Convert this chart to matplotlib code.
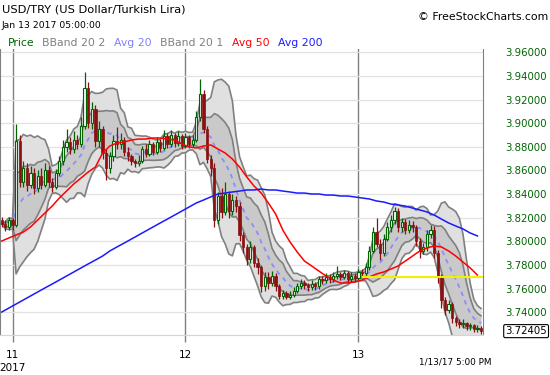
import numpy as np
import pandas as pd
import matplotlib
matplotlib.use('Agg')
import matplotlib.pyplot as plt

plt.rcParams['font.family'] = ['DejaVu Sans']

# 30 minute candles, Jan 10 22:30 -> Jan 13 17:00
open_first = 3.818
close = [3.815, 3.812, 3.818, 3.814, 3.885, 3.850, 3.862, 3.848, 3.858, 3.845,
         3.855, 3.848, 3.860, 3.850, 3.846, 3.858, 3.868, 3.880, 3.884, 3.878,
         3.886, 3.882, 3.898, 3.930, 3.900, 3.912, 3.885, 3.895, 3.875, 3.862,
         3.872, 3.885, 3.882, 3.886, 3.876, 3.872, 3.868, 3.866, 3.868, 3.878,
         3.874, 3.882, 3.876, 3.884, 3.879, 3.889, 3.882, 3.890, 3.883, 3.889,
         3.881, 3.888, 3.882, 3.886, 3.905, 3.925, 3.895, 3.870, 3.862, 3.818,
         3.838, 3.825, 3.840, 3.826, 3.835, 3.830, 3.805, 3.795, 3.785, 3.795,
         3.782, 3.778, 3.762, 3.770, 3.765, 3.771, 3.762, 3.754, 3.756, 3.753,
         3.755, 3.758, 3.762, 3.765, 3.763, 3.761, 3.764, 3.762, 3.768, 3.767,
         3.770, 3.768, 3.771, 3.772, 3.770, 3.773, 3.768, 3.771, 3.769, 3.774,
         3.773, 3.778, 3.792, 3.808, 3.798, 3.790, 3.802, 3.812, 3.818, 3.826,
         3.812, 3.816, 3.810, 3.814, 3.812, 3.800, 3.792, 3.795, 3.806, 3.810,
         3.790, 3.770, 3.750, 3.742, 3.747, 3.735, 3.732, 3.730, 3.731, 3.728,
         3.729, 3.726, 3.727, 3.72405]
high = [3.821, 3.818, 3.821, 3.820, 3.899, 3.890, 3.868, 3.866, 3.864, 3.862,
        3.860, 3.862, 3.866, 3.864, 3.854, 3.861, 3.872, 3.886, 3.895, 3.888,
        3.893, 3.890, 3.905, 3.943, 3.935, 3.918, 3.915, 3.902, 3.898, 3.878,
        3.876, 3.890, 3.897, 3.892, 3.888, 3.880, 3.874, 3.870, 3.873, 3.881,
        3.882, 3.886, 3.884, 3.888, 3.887, 3.894, 3.892, 3.894, 3.892, 3.893,
        3.891, 3.892, 3.890, 3.890, 3.910, 3.937, 3.928, 3.898, 3.873, 3.866,
        3.842, 3.845, 3.850, 3.843, 3.840, 3.838, 3.833, 3.808, 3.798, 3.800,
        3.797, 3.786, 3.780, 3.774, 3.774, 3.775, 3.773, 3.764, 3.759, 3.758,
        3.758, 3.761, 3.765, 3.768, 3.767, 3.765, 3.767, 3.766, 3.771, 3.771,
        3.773, 3.772, 3.774, 3.779, 3.774, 3.776, 3.775, 3.774, 3.773, 3.777,
        3.777, 3.782, 3.796, 3.812, 3.820, 3.802, 3.806, 3.816, 3.822, 3.829,
        3.828, 3.820, 3.819, 3.818, 3.817, 3.814, 3.803, 3.799, 3.810, 3.814,
        3.813, 3.793, 3.772, 3.753, 3.750, 3.749, 3.737, 3.734, 3.734, 3.732,
        3.731, 3.730, 3.729, 3.728]
low = [3.812, 3.809, 3.810, 3.810, 3.812, 3.846, 3.846, 3.843, 3.845, 3.840,
       3.842, 3.844, 3.846, 3.846, 3.842, 3.844, 3.855, 3.865, 3.876, 3.874,
       3.875, 3.878, 3.880, 3.895, 3.896, 3.895, 3.880, 3.880, 3.870, 3.852,
       3.858, 3.868, 3.878, 3.878, 3.872, 3.868, 3.865, 3.863, 3.864, 3.866,
       3.871, 3.872, 3.873, 3.874, 3.876, 3.877, 3.879, 3.880, 3.880, 3.881,
       3.878, 3.879, 3.879, 3.880, 3.884, 3.902, 3.892, 3.866, 3.855, 3.812,
       3.815, 3.820, 3.822, 3.820, 3.822, 3.825, 3.800, 3.790, 3.780, 3.782,
       3.778, 3.772, 3.757, 3.758, 3.760, 3.762, 3.758, 3.751, 3.751, 3.751,
       3.751, 3.753, 3.756, 3.760, 3.760, 3.758, 3.759, 3.759, 3.760, 3.764,
       3.765, 3.765, 3.766, 3.768, 3.767, 3.768, 3.765, 3.766, 3.766, 3.767,
       3.770, 3.771, 3.776, 3.790, 3.795, 3.784, 3.788, 3.800, 3.808, 3.815,
       3.808, 3.808, 3.806, 3.807, 3.808, 3.796, 3.786, 3.789, 3.792, 3.803,
       3.786, 3.765, 3.744, 3.738, 3.739, 3.731, 3.728, 3.727, 3.727, 3.725,
       3.725, 3.723, 3.723, 3.722]

# Avg 50 / Avg 200, read every second candle
ma50 = [3.8003, 3.8029, 3.8054, 3.8079, 3.8122, 3.8181, 3.8240, 3.8299, 3.8367, 3.8426,
        3.8486, 3.8536, 3.8587, 3.8629, 3.8748, 3.8807, 3.8833, 3.8841, 3.8858, 3.8866,
        3.8866, 3.8875, 3.8875, 3.8866, 3.8858, 3.8824, 3.8799, 3.8790, 3.8807, 3.8816,
        3.8782, 3.8748, 3.8697, 3.8629, 3.8545, 3.8469, 3.8409, 3.8325, 3.8232, 3.8096,
        3.7995, 3.7910, 3.7834, 3.7792, 3.7749, 3.7707, 3.7673, 3.7648, 3.7648, 3.7656,
        3.7673, 3.7699, 3.7724, 3.7741, 3.7766, 3.7792, 3.7834, 3.7876, 3.7919, 3.7944,
        3.7961, 3.7953, 3.7919, 3.7876, 3.7825, 3.7775, 3.7715]
ma200 = [3.7402, 3.7436, 3.7470, 3.7504, 3.7538, 3.7572, 3.7606, 3.7639, 3.7673, 3.7707,
         3.7741, 3.7775, 3.7809, 3.7842, 3.7876, 3.7919, 3.7953, 3.7986, 3.8020, 3.8054,
         3.8088, 3.8122, 3.8156, 3.8189, 3.8223, 3.8257, 3.8291, 3.8325, 3.8350, 3.8376,
         3.8401, 3.8409, 3.8418, 3.8426, 3.8435, 3.8435, 3.8443, 3.8435, 3.8435, 3.8426,
         3.8418, 3.8409, 3.8409, 3.8401, 3.8401, 3.8392, 3.8392, 3.8384, 3.8384, 3.8376,
         3.8367, 3.8359, 3.8342, 3.8333, 3.8316, 3.8308, 3.8299, 3.8282, 3.8266, 3.8249,
         3.8223, 3.8189, 3.8156, 3.8130, 3.8105, 3.8071, 3.8046]

day_idx = [3, 51, 99]
day_labels = ['11\n2017', '12', '13']
price_ticks = [3.74, 3.76, 3.78, 3.80, 3.82, 3.84, 3.86, 3.88, 3.90, 3.92, 3.94, 3.96]
last_price = 3.72405
yellow_level = 3.770

c = np.array(close)
o = np.array([open_first] + close[:-1])
h = np.array(high)
l = np.array(low)
idx = np.arange(len(c))

# bollinger bands from the closes; source bars are 15 min, so 20 of them ~ 10 of ours
s = pd.Series(c)
win = 10
mid = s.rolling(win, min_periods=1).mean()
sd = s.rolling(win, min_periods=1).std(ddof=0).fillna(0)

fig = plt.figure(figsize=(5.5, 3.75), dpi=100)
ax = fig.add_axes([0.0, 0.1067, 0.8782, 0.7618])

ax.fill_between(idx, mid + 2 * sd, mid - 2 * sd, color='#e0e0e0', zorder=1, lw=0)
ax.fill_between(idx, mid + sd, mid - sd, color='#c9c9c9', zorder=1.1, lw=0)
for band in [mid + 2 * sd, mid - 2 * sd, mid + sd, mid - sd]:
    ax.plot(idx, band, color='#808080', lw=1.2, zorder=1.2)
ax.plot(idx, mid, color='#8c8cff', lw=1.3, ls=(0, (2.5, 2.5)), zorder=1.3)

up = c >= o
cols = np.where(up, '#006400', '#8b1010')
ax.vlines(idx, l, h, colors=cols, lw=0.9, zorder=3)
body_lo = np.minimum(o, c)
body_h = np.maximum(np.abs(c - o), 0.0007)
ax.bar(idx[up], body_h[up], bottom=body_lo[up], width=0.62,
       facecolor='#f4f4f4', edgecolor='#006400', lw=0.8, zorder=4)
ax.bar(idx[~up], body_h[~up], bottom=body_lo[~up], width=0.62,
       facecolor='#8b1010', edgecolor='#8b1010', lw=0.5, zorder=4)

ma_idx = np.arange(0, len(c), 2)
ax.plot(ma_idx, ma50, color='#ff0000', lw=1.1, zorder=5)
ax.plot(ma_idx, ma200, color='#1a1aff', lw=1.1, zorder=5)
ax.hlines(yellow_level, day_idx[2] + 1, 133.55, color='#f0f000', lw=1.5, zorder=5)

for d in day_idx:
    ax.axvline(d, color='#808080', lw=1, zorder=0.5)

ax.set_xlim(-0.47, 133.55)
ax.set_ylim(3.72079, 3.96254)
ax.set_yticks(price_ticks)
ax.set_yticklabels(['%.5f' % v for v in price_ticks])
ax.yaxis.tick_right()
ax.tick_params(axis='y', length=0, pad=16, labelsize=7.3, labelcolor='#006400')
ax.grid(axis='y', color='#e2e2e2', lw=0.9, zorder=0)
ax.set_axisbelow(True)

ax.set_xticks(day_idx)
ax.set_xticklabels(day_labels, fontsize=7.5, linespacing=1.3)
ax.tick_params(axis='x', length=5, color='#808080', pad=6, width=1)

ax.spines['top'].set_visible(False)
ax.spines['left'].set_color('#808080')
ax.spines['right'].set_color('#808080')
ax.spines['bottom'].set_color('#d4d4d4')

ax.annotate('%.5f' % last_price, xy=(1, last_price), xycoords=('axes fraction', 'data'),
            xytext=(16, 0), textcoords='offset points', va='center', ha='left',
            fontsize=7.3, bbox=dict(boxstyle='round,pad=0.15', fc='white', ec='black', lw=0.8))

# header texts
fig.text(2 / 550, 1 - 9 / 375, 'USD/TRY (US Dollar/Turkish Lira)', fontsize=8.2, va='center')
fig.text(2 / 550, 1 - 25 / 375, 'Jan 13 2017 05:00:00', fontsize=6.7, va='center')
fig.text(548 / 550, 1 - 17 / 375, '\u00a9 FreeStockCharts.com', fontsize=7.8, va='center', ha='right')
legend = [('Price', '#006400', 8), ('BBand 20 2', '#808080', 42), ('Avg 20', '#8080ff', 114),
          ('BBand 20 1', '#808080', 160), ('Avg 50', '#ff0000', 232), ('Avg 200', '#1a1aff', 278)]
for name, col, xp in legend:
    fig.text(xp / 550, 1 - 43 / 375, name, color=col, fontsize=7.8, va='center')
fig.text(455 / 550, 1 - 362 / 375, '1/13/17 5:00 PM', fontsize=6.4, va='center', ha='center')

fig.savefig('out.png', dpi=100)
